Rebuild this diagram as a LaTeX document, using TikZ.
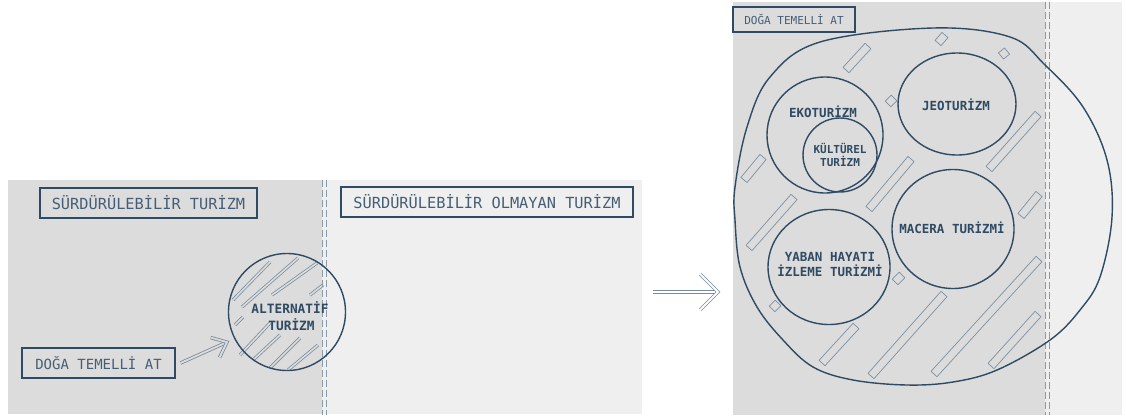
\documentclass[tikz,border=0pt]{standalone}
\usepackage{fontspec}
\newfontfamily\mono{DejaVu Sans Mono}
\usetikzlibrary{calc,shapes.geometric}
\definecolor{graybg}{RGB}{220,220,220}
\definecolor{lightbg}{RGB}{239,239,239}
\definecolor{navy}{RGB}{47,74,99}
\definecolor{boxtext}{RGB}{70,94,117}
\definecolor{barcol}{RGB}{125,144,162}
\definecolor{dashcol}{RGB}{140,154,168}
\definecolor{arrowcol}{RGB}{120,138,155}
\newcommand\hatchbar[2]{\draw[barstyle] ($(#1)!4pt!90:(#2)$) -- ($(#2)!4pt!-90:(#1)$) -- ($(#2)!4pt!90:(#1)$) -- ($(#1)!4pt!-90:(#2)$) -- cycle;}
\begin{document}
\begin{tikzpicture}[x=1pt,y=-1pt,
  labelbox/.style={draw=navy, line width=1.1pt, text=boxtext, inner sep=0pt, font=\mono},
  ring/.style={draw=navy, line width=1.4pt, circle, inner sep=0pt, text=navy, font=\mono\bfseries, align=center},
  oval/.style={draw=navy, line width=1.4pt, ellipse, inner sep=0pt},
  ringtext/.style={text=navy, font=\mono\bfseries\fontsize{12.5}{15}\selectfont, align=center, inner sep=0pt},
  barstyle/.style={draw=barcol, line width=0.7pt, line join=round},
  hatchline/.style={draw=barcol, double=graybg, double distance=1.6pt, line width=0.8pt},
  dashline/.style={draw=dashcol, line width=0.8pt, dash pattern=on 7pt off 3pt},
  dblarrow/.style={draw=arrowcol, double distance=1.8pt, line width=0.8pt, line join=miter},
]
\useasboundingbox (0,0) rectangle (1126,418);
\fill[white] (0,0) rectangle (1126,418);
% left panel backgrounds
\fill[graybg] (8,180) rectangle (322,414);
\fill[lightbg] (322,180) rectangle (642,414);
% right panel backgrounds
\fill[graybg] (733,2) rectangle (1045,415);
\fill[lightbg] (1045,2) rectangle (1122,415);

% hatch lines in the alternative tourism circle
\draw[hatchline] (233,300) -- (270,262);
\draw[hatchline] (242,307) -- (298,258);
\draw[hatchline] (272,295) -- (317,263);
\draw[hatchline] (310,295) -- (323,285);
\draw[hatchline] (235,325) -- (243,317);
\draw[hatchline] (240,355) -- (270,323);
\draw[hatchline] (253,360) -- (280,335);
\draw[hatchline] (270,368) -- (300,338);
\draw[hatchline] (288,370) -- (318,345);

% dashed dividers
\draw[dashline] (322,180) -- (322,415);
\draw[dashline] (326,180) -- (326,415);
\draw[dashline] (1045,2) -- (1045,415);
\draw[dashline] (1049,2) -- (1049,415);

% left panel nodes
\node[labelbox, minimum width=217pt, minimum height=30pt, font=\mono\fontsize{15.3}{18}\selectfont] (sust) at (148.5,203) {SÜRDÜRÜLEBİLİR TURİZM};
\node[labelbox, minimum width=292pt, minimum height=30pt, font=\mono\fontsize{15.3}{18}\selectfont] (nonsust) at (487,202) {SÜRDÜRÜLEBİLİR OLMAYAN TURİZM};
\node[labelbox, minimum width=153pt, minimum height=30pt, font=\mono\fontsize{14}{17}\selectfont] (natLeft) at (98.5,363) {DOĞA TEMELLİ AT};
\node[ring, minimum size=117pt] (alt) at (287,312) {};
\node[ringtext, font=\mono\bfseries\fontsize{12.8}{17}\selectfont] (alttext) at (290,316) {ALTERNATİF\\\hspace*{3pt}TURİZM};

% arrow from natLeft to alt
\coordinate (aStart) at ([xshift=5pt]natLeft.east);
\coordinate (aTip) at ($(alt.207)!8pt!(aStart)$);
\draw[dblarrow, double=graybg] (aStart) -- (aTip);
\draw[dblarrow, double=graybg] ($(aTip)!17pt!40:(aStart)$) -- (aTip) -- ($(aTip)!17pt!-40:(aStart)$);

% middle arrow
\coordinate (mStart) at (653,292);
\coordinate (mTip) at (718,292);
\draw[dblarrow, double=white] (mStart) -- (mTip);
\draw[dblarrow, double=white] ($(mTip)!25pt!45:(mStart)$) -- (mTip) -- ($(mTip)!25pt!-45:(mStart)$);

% right panel
\node[labelbox, minimum width=122pt, minimum height=25pt, font=\mono\fontsize{11}{13}\selectfont] (natRight) at (794,19.5) {DOĞA TEMELLİ AT};

% big blob
\draw[navy, line width=1.4pt] plot[smooth cycle, tension=0.6] coordinates {
 (933,28) (1010,37) (1045,65) (1083,107) (1107,160) (1112,217) (1100,277) (1080,310)
 (1050,340) (997,370) (953,382) (907,385) (853,380) (813,367) (783,340) (757,307)
 (740,267) (735,220) (735,187) (747,127) (770,77) (820,42)};

% hatch bars
\hatchbar{846,70}{868,46}
\hatchbar{938,43}{945,35}
\hatchbar{1001,56}{1007,51}
\hatchbar{888,104}{894,98}
\hatchbar{989,169}{1038,114}
\hatchbar{744,180}{763,157}
\hatchbar{869,209}{911,159}
\hatchbar{749,248}{794,197}
\hatchbar{1021,216}{1039,194}
\hatchbar{895,282}{902,275}
\hatchbar{772,309}{778,303}
\hatchbar{822,363}{856,326}
\hatchbar{871,376}{944,294}
\hatchbar{934,374}{1039,259}
\hatchbar{991,366}{1038,314}

% circles
\node[ring, minimum size=116pt] (eko) at (825,135) {};
\node[ringtext] (ekotext) at (823,112) {EKOTURİZM};
\node[ring, minimum size=74pt, font=\mono\bfseries\fontsize{11}{13}\selectfont] (kult) at (840,155) {KÜLTÜREL\\TURİZM};
\node[oval, minimum width=118pt, minimum height=102pt] (jeo) at (957,104) {};
\node[ringtext] (jeotext) at (956,105) {JEOTURİZM};
\node[oval, minimum width=122pt, minimum height=119pt] (macera) at (953,229) {};
\node[ringtext] (maceratext) at (952,228) {MACERA TURİZMİ};
\node[oval, minimum width=122pt, minimum height=115pt] (yaban) at (829,267) {};
\node[ringtext] (yabantext) at (830,265) {YABAN HAYATI\\İZLEME TURİZMİ};
\end{tikzpicture}
\end{document}
